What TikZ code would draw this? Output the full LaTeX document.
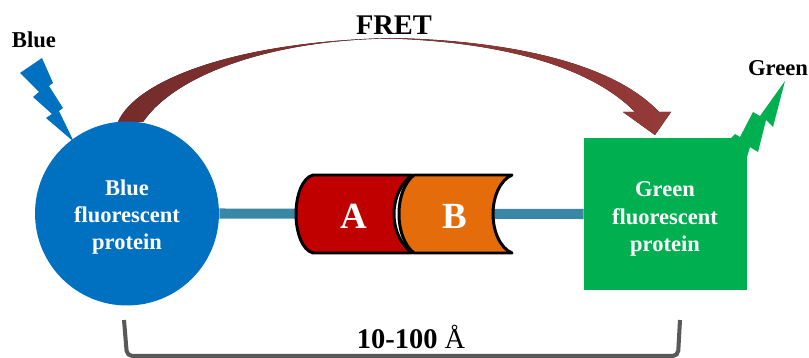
\documentclass[tikz,border=0pt]{standalone}
\usepackage{fontspec}
\setmainfont{Liberation Serif}
\usepackage{tikz}
\usetikzlibrary{calc,positioning}
\definecolor{DonorBlue}{HTML}{0070C0}
\definecolor{AcceptorGreen}{HTML}{00B050}
\definecolor{LinkerTeal}{HTML}{3A87A5}
\definecolor{PartA}{HTML}{C00000}
\definecolor{PartB}{HTML}{E46C0A}
\definecolor{BracketGrey}{HTML}{595959}
\definecolor{FretDark}{HTML}{762C2C}
\definecolor{FretLight}{HTML}{953A38}

\begin{document}
\begin{tikzpicture}[x=.02cm,y=-.02cm,
    label/.style={font=\bfseries\fontsize{12.9}{15}\selectfont,inner sep=0pt},
    title/.style={font=\bfseries\fontsize{16.2}{19}\selectfont,inner sep=0pt},
    protein/.style={font=\bfseries\fontsize{12.8}{15.4}\selectfont,text=white,align=center,inner sep=0pt},
    part/.style={font=\bfseries\fontsize{21}{24}\selectfont,text=white,inner sep=0pt},
    edge/.style={draw=black,line width=1.7pt,line join=round,line cap=round}]
    \useasboundingbox (0,0) rectangle (809,358);
    % bolts sit behind the two proteins
    \fill[DonorBlue] (42,58)--(53,83)--(49,86)--(63,108)--(59,111)--(74,142)--(46,118)--(52,114)--(33,97)--(39,92)--(20,73)--cycle;
    \fill[AcceptorGreen] (785,81)--(773,127)--(766,120)--(758,152)--(750,147)--(741,177)--(725,150)--(731,138)--(735,134)--(740,137)--(753,112)--(760,116)--cycle;
    % FRET arrow
    \fill[left color=FretDark,right color=FretLight]
      (118,122) .. controls (135,82) and (230,42) .. (390,38) .. controls (500,40) and (610,60) .. (659,112)--(671,112)--(655,135)--(623,112)--(635,112) .. controls (590,66) and (500,42) .. (390,38.5) .. controls (270,40) and (175,75) .. (143,122)--cycle;
    \node[circle,fill=DonorBlue,minimum size=3.68cm,inner sep=0pt] (donor) at (127,213.5) {};
    \node[rectangle,fill=AcceptorGreen,minimum width=3.26cm,minimum height=3.04cm,inner sep=0pt] (acceptor) at (665.5,214) {};
    \node[protein] (donortext) at (127,217) {Blue\\fluorescent\\protein};
    \node[protein] (acceptortext) at (665,219) {Green\\fluorescent\\protein};
    % linker behind the barrel
    \draw[LinkerTeal,line width=5.7pt] (donor.east)--(acceptor.west);
    % barrel
    \fill[white] (412,176) .. controls (400,184) and (394,198) .. (394,214) .. controls (394,230) and (400,244) .. (412,252)--cycle;
    \path[edge,fill=PartA] (412,175)--(313,175) .. controls (302,178) and (296,196) .. (296,214) .. controls (296,232) and (302,250) .. (313,253)--(412,253) .. controls (401,245) and (394,230) .. (394,214) .. controls (394,198) and (401,183) .. (412,175)--cycle;
    \path[edge,fill=PartB] (414,175)--(512,175) .. controls (500,180) and (493,197) .. (493,214) .. controls (493,231) and (500,248) .. (512,253)--(414,253) .. controls (404,245) and (399,230) .. (399,214) .. controls (399,198) and (404,183) .. (414,175)--cycle;
    \node[part] (parta) at (354,216) {A};
    \node[part] (partb) at (455,216) {B};
    \node[label] (bluelabel) at (34,40) {Blue};
    \node[label] (greenlabel) at (778,68) {Green};
    \node[title] (fret) at (394,25) {FRET};
    \node[title] (range) at (411,337) {10-100 {\mdseries Å}};
    \coordinate (bl) at (124,320);
    \coordinate (br) at (680,320);
    \draw[BracketGrey,line width=2.3pt,rounded corners=3] (bl)--(127,356)--(678,356)--(br);
\end{tikzpicture}
\end{document}
